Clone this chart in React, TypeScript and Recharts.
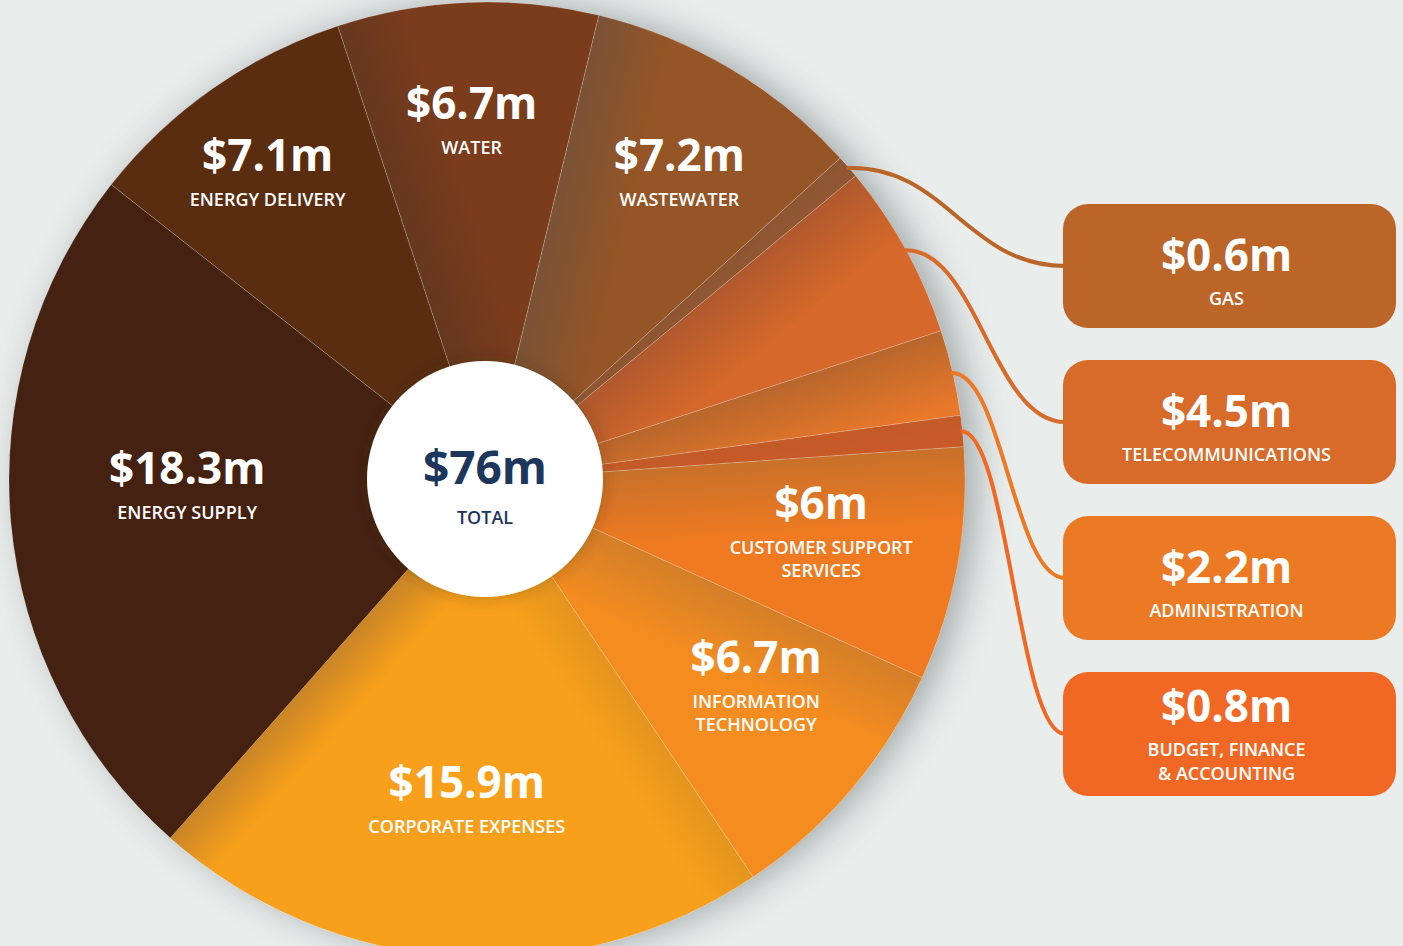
import React from 'react';
import { PieChart, Pie, Cell } from 'recharts';

// values in $ millions, clockwise from the top (Water)
const categories = [
  'WATER', 'WASTEWATER', 'GAS', 'TELECOMMUNICATIONS', 'ADMINISTRATION',
  'BUDGET, FINANCE & ACCOUNTING', 'CUSTOMER SUPPORT SERVICES',
  'INFORMATION TECHNOLOGY', 'CORPORATE EXPENSES', 'ENERGY SUPPLY', 'ENERGY DELIVERY',
];
const amounts = [6.7, 7.2, 0.6, 4.5, 2.2, 0.8, 6, 6.7, 15.9, 18.3, 7.1];
const valueLabels = ['$6.7m', '$7.2m', '$0.6m', '$4.5m', '$2.2m', '$0.8m', '$6m', '$6.7m', '$15.9m', '$18.3m', '$7.1m'];
const labelLines = [
  ['WATER'], ['WASTEWATER'], ['GAS'], ['TELECOMMUNICATIONS'], ['ADMINISTRATION'],
  ['BUDGET, FINANCE', '& ACCOUNTING'], ['CUSTOMER SUPPORT', 'SERVICES'],
  ['INFORMATION', 'TECHNOLOGY'], ['CORPORATE EXPENSES'], ['ENERGY SUPPLY'], ['ENERGY DELIVERY'],
];
const callouts = ['GAS', 'TELECOMMUNICATIONS', 'ADMINISTRATION', 'BUDGET, FINANCE & ACCOUNTING'];
const totalLabel = '$76m';

const sliceColors = ['#7b3c1c', '#955526', '#9c5a30', '#d5682a', '#e8782a', '#d05a26', '#ef7a21', '#f48c20', '#f8a01b', '#452111', '#5a2d11'];
// darker tone along the leading edge of each slice
const edgeColors = ['#66371f', '#7a5236', '#8d5632', '#b0592e', '#b8662c', '#c35a28', '#c8702a', '#d47f28', '#e4951f', '#452111', '#5a2d11'];
const trailColors = ['', '', '', '', '', '', '', '', '#c98527', '', ''];
const boxColors = ['#bb6529', '#d86a2a', '#ec7924', '#f06824'];

const data = categories.map((c, i) => ({ name: c, value: amounts[i], label: valueLabels[i], lines: labelLines[i] }));

const CX = 487;
const CY = 480;
const R = 478;
const START = 108.2;

const RAD = Math.PI / 180;
// [radius, angle shift] for labels inside slices
const spot: Record<string, [number, number]> = {
  WATER: [377, 0],
  WASTEWATER: [378, 0],
  'ENERGY DELIVERY': [392, -1],
  'ENERGY SUPPLY': [300, -7.5],
  'CORPORATE EXPENSES': [303, 0],
  'INFORMATION TECHNOLOGY': [322, 7],
  'CUSTOMER SUPPORT SERVICES': [335, 6.3],
};

const valueFont = { fontFamily: '"Open Sans", sans-serif', fontWeight: 700, fontSize: 44, fill: '#fff' };
const nameFont = { fontFamily: '"Open Sans", sans-serif', fontWeight: 600, fontSize: 18, fill: '#fff' };

const BOX_X = 1063;
const BOX_W = 333;
const BOX_H = 124;
const BOX_TOP = 204;
const BOX_GAP = 156;

function renderLabel(props: any) {
  const { cx, cy, midAngle, outerRadius, payload } = props;
  const name = payload.name;
  const ci = callouts.indexOf(name);
  if (ci >= 0) {
    const x0 = cx + (outerRadius - 2) * Math.cos(-midAngle * RAD);
    const y0 = cy + (outerRadius - 2) * Math.sin(-midAngle * RAD);
    const top = BOX_TOP + ci * BOX_GAP;
    const x1 = BOX_X + 2;
    const y1 = top + BOX_H / 2;
    const k = (x1 - x0) * 0.45;
    const lines: string[] = payload.lines;
    const vy = lines.length > 1 ? top + 34 : top + 51;
    return (
      <g key={name}>
        <path d={`M${x0},${y0} C${x0 + k},${y0 - 4} ${x1 - k},${y1} ${x1},${y1}`} fill="none" stroke={boxColors[ci]} strokeWidth={4} />
        <rect x={BOX_X} y={top} width={BOX_W} height={BOX_H} rx={25} fill={boxColors[ci]} />
        <text x={BOX_X + BOX_W / 2 - 3} y={vy + 16} textAnchor="middle" style={valueFont}>{payload.label}</text>
        {lines.map((l, j) => (
          <text key={j} x={BOX_X + BOX_W / 2 - 3} y={vy + 50 + j * 24} textAnchor="middle" style={nameFont}>{l}</text>
        ))}
      </g>
    );
  }
  const s = spot[name];
  if (!s) return null;
  const a = (midAngle + s[1]) * RAD;
  const x = cx + s[0] * Math.cos(-a);
  const y = cy + s[0] * Math.sin(-a);
  const lines: string[] = payload.lines;
  return (
    <g key={name}>
      <text x={x} y={y + 16} textAnchor="middle" style={valueFont}>{payload.label}</text>
      {lines.map((l, j) => (
        <text key={j} x={x} y={y + 51 + j * 23} textAnchor="middle" style={nameFont}>{l}</text>
      ))}
    </g>
  );
}

function renderTotal(props: any) {
  const { cx, cy } = props;
  return (
    <g>
      <text x={cx} y={cy + 5} textAnchor="middle" style={{ ...valueFont, fontSize: 46, fill: '#1c365c' }}>{totalLabel}</text>
      <text x={cx} y={cy + 45} textAnchor="middle" style={{ ...nameFont, fill: '#1c365c' }}>TOTAL</text>
    </g>
  );
}

export default function App() {
  const total = amounts.reduce((a, b) => a + b, 0);
  // edge angles (clockwise from north) for the shading gradients
  let acc = 0;
  const edges = amounts.map((v) => {
    const s = 90 - START + (acc / total) * 360;
    acc += v;
    const e = 90 - START + (acc / total) * 360;
    return [s, e];
  });
  return (
    <div style={{ position: 'absolute', left: 0, top: 0, width: 1403, height: 946, background: '#e9edec', overflow: 'hidden' }}>
      <div style={{ position: 'absolute', left: CX - R, top: CY - R, width: R * 2, height: R * 2, borderRadius: '50%', boxShadow: '12px 0 34px rgba(60,70,75,0.4)' }} />
      <div style={{ position: 'absolute', left: 0, top: 0 }}>
        <PieChart width={1403} height={946} margin={{ top: 0, right: 0, bottom: 0, left: 0 }}>
          <defs>
            {edges.map(([s, e], i) => {
              const t = s * RAD;
              const u = e * RAD;
              const w = i === 8 ? 55 : 75;
              return (
                <React.Fragment key={i}>
                  <linearGradient id={`lead${i}`} gradientUnits="userSpaceOnUse" x1={CX} y1={CY} x2={CX + w * Math.cos(t)} y2={CY + w * Math.sin(t)}>
                    <stop offset="0" stopColor={edgeColors[i]} />
                    <stop offset="1" stopColor={sliceColors[i]} />
                  </linearGradient>
                  <linearGradient id={`trail${i}`} gradientUnits="userSpaceOnUse" x1={CX} y1={CY} x2={CX - 55 * Math.cos(u)} y2={CY - 55 * Math.sin(u)}>
                    <stop offset="0" stopColor={trailColors[i] || '#000'} stopOpacity={trailColors[i] ? 1 : 0} />
                    <stop offset="1" stopColor={trailColors[i] || '#000'} stopOpacity={0} />
                  </linearGradient>
                </React.Fragment>
              );
            })}
            <filter id="holeShadow" x="-30%" y="-30%" width="160%" height="160%">
              <feDropShadow dx="0" dy="0" stdDeviation="8" floodColor="#3a2a1a" floodOpacity="0.3" />
            </filter>
          </defs>
          <Pie
            data={data}
            dataKey="value"
            cx={CX}
            cy={CY}
            innerRadius={0}
            outerRadius={R}
            startAngle={START}
            endAngle={START - 360}
            stroke="rgba(255,255,255,0.18)"
            strokeWidth={1}
            labelLine={false}
            isAnimationActive={false}
          >
            {data.map((d, i) => <Cell key={d.name} fill={`url(#lead${i})`} />)}
          </Pie>
          <Pie
            data={data}
            dataKey="value"
            cx={CX}
            cy={CY}
            innerRadius={0}
            outerRadius={R}
            startAngle={START}
            endAngle={START - 360}
            stroke="none"
            label={renderLabel}
            labelLine={false}
            isAnimationActive={false}
          >
            {data.map((d, i) => <Cell key={d.name} fill={`url(#trail${i})`} />)}
          </Pie>
          <Pie
            data={[{ name: 'TOTAL', value: total }]}
            dataKey="value"
            cx={485}
            cy={479}
            innerRadius={0}
            outerRadius={118}
            fill="#fff"
            stroke="none"
            style={{ filter: 'url(#holeShadow)' }}
            label={renderTotal}
            labelLine={false}
            isAnimationActive={false}
          />
        </PieChart>
      </div>
    </div>
  );
}
